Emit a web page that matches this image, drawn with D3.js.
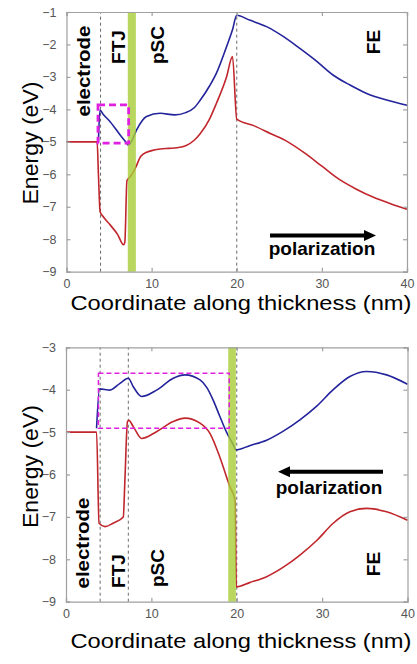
<!DOCTYPE html>
<html>
<head>
<meta charset="utf-8">
<title>Band diagram</title>
<style>
  body { margin: 0; background: #fff; }
  svg { font-family: 'Liberation Sans', Arial, sans-serif; }
  .axis path, .axis line { stroke: #a0a0a0; stroke-width: 1.2; }
  .axis text { fill: #555; font-size: 12.5px; }
  .lbl { font-weight: bold; font-size: 19px; fill: #000; }
</style>
</head>
<body>
<div id="chart"></div>
<script src="https://cdn.jsdelivr.net/npm/d3@7"></script>
<script>
// coordinate in nm, energy in eV
const xTicks = [0, 10, 20, 30, 40];
const topYTicks = [-9, -8, -7, -6, -5, -4, -3, -2, -1];
const botYTicks = [-9, -8, -7, -6, -5, -4, -3];

// top panel (polarization to the right)
const topBlueX = [3.75, 3.93, 4.3, 5.1, 6.28, 7.07, 7.25, 7.6, 8.24, 9.4, 11, 12.7, 14, 15, 15.7, 16.8, 17.6, 18.8, 19.5, 20, 21.5, 23.5, 25.5, 27.4, 29.4, 31.3, 33.3, 35.2, 37.6, 40];
const topBlueE = [-5.0, -4.02, -4.15, -4.37, -4.78, -5.04, -5.1, -5.0, -4.63, -4.22, -4.12, -4.17, -4.1, -3.95, -3.72, -3.28, -2.89, -2.07, -1.55, -1.1, -1.25, -1.45, -1.76, -2.12, -2.52, -2.94, -3.25, -3.5, -3.71, -3.87];
const topRedX = [0, 3.6, 3.75, 3.95, 4.3, 5.1, 6.0, 6.7, 6.85, 7.1, 7.4, 7.8, 8.2, 8.6, 9.0, 10, 11, 12, 13, 14, 15, 15.7, 16.8, 17.6, 18.8, 19.5, 20, 22, 24, 26, 28, 30, 32, 34, 36, 38, 40];
const topRedE = [-5, -5, -6.0, -7.15, -7.3, -7.55, -7.85, -8.17, -8.1, -6.2, -6.1, -5.95, -5.75, -5.5, -5.38, -5.27, -5.22, -5.2, -5.18, -5.12, -4.95, -4.75, -4.3, -3.82, -3.0, -2.37, -4.3, -4.5, -4.75, -5.0, -5.35, -5.75, -6.15, -6.45, -6.7, -6.9, -7.08];

// bottom panel (polarization to the left)
const botBlueX = [3.58, 3.93, 5.15, 6.32, 7.3, 7.88, 8.86, 10.6, 12.56, 13.93, 15.7, 16.5, 17.25, 18, 18.8, 19.6, 19.9, 21.5, 23.5, 25.5, 27.4, 29.4, 31.3, 33.25, 35.2, 37.55, 40];
const botBlueE = [-4.91, -3.98, -4.01, -3.85, -3.73, -3.93, -4.16, -4.01, -3.73, -3.65, -3.77, -3.95, -4.25, -4.62, -5.0, -5.3, -5.42, -5.32, -5.19, -4.97, -4.71, -4.38, -4.0, -3.69, -3.57, -3.65, -3.87];
const botRedX = [0, 3.58, 3.87, 4.57, 5.5, 6.71, 6.9, 7.2, 7.35, 7.88, 8.86, 10.6, 12.56, 13.93, 15.7, 16.86, 18.0, 19.2, 19.8, 19.95, 21.5, 23.5, 25.5, 27.4, 29.4, 31.3, 33.25, 35.2, 37.55, 40];
const botRedE = [-5, -5, -7.15, -7.23, -7.15, -7.0, -6.13, -4.75, -4.72, -4.87, -5.15, -4.99, -4.75, -4.67, -4.79, -5.03, -5.58, -6.29, -6.6, -8.65, -8.55, -8.41, -8.18, -7.9, -7.55, -7.15, -6.88, -6.8, -6.88, -7.08];

const zip = (xs, ys) => xs.map((v, i) => [v, ys[i]]);

const svg = d3.select("#chart").append("svg")
    .attr("width", 417)
    .attr("height", 664);

function drawPanel(p) {
    const x = d3.scaleLinear().domain([0, 40]).range([p.left, p.right]);
    const y = d3.scaleLinear().domain(p.yDomain).range([p.bottom, p.top]);
    const g = svg.append("g");

    // dashed layer boundaries
    p.bounds.forEach(b => {
        g.append("line")
            .attr("x1", x(b)).attr("x2", x(b))
            .attr("y1", y(p.yDomain[0])).attr("y2", y(p.yDomain[1]))
            .attr("stroke", "#444").attr("stroke-width", 0.8)
            .attr("stroke-dasharray", "3,3");
    });

    const line = d3.line()
        .x(d => x(d[0]))
        .y(d => y(d[1]))
        .curve(d3.curveMonotoneX);

    g.append("path").datum(zip(p.redX, p.redE))
        .attr("d", line).attr("fill", "none")
        .attr("stroke", "#c0262c").attr("stroke-width", 1.6);
    g.append("path").datum(zip(p.blueX, p.blueE))
        .attr("d", line).attr("fill", "none")
        .attr("stroke", "#23239b").attr("stroke-width", 1.6);

    // interface layer
    g.append("rect")
        .attr("x", x(p.band[0])).attr("width", x(p.band[1]) - x(p.band[0]))
        .attr("y", y(p.yDomain[1])).attr("height", y(p.yDomain[0]) - y(p.yDomain[1]))
        .attr("fill", "#a8cd37").attr("opacity", 0.8);

    // magenta box
    g.append("rect")
        .attr("x", x(p.box[0])).attr("width", x(p.box[1]) - x(p.box[0]))
        .attr("y", y(p.box[3])).attr("height", y(p.box[2]) - y(p.box[3]))
        .attr("fill", "none").attr("stroke", "#e020e0")
        .attr("stroke-width", p.boxW).attr("stroke-dasharray", p.boxDash);

    // axes (box with inward ticks)
    const fmt = d3.format("d");
    g.append("g").attr("class", "axis")
        .attr("transform", `translate(0,${p.bottom})`)
        .call(d3.axisBottom(x).tickValues(xTicks).tickSize(-4).tickPadding(7).tickFormat(fmt));
    g.append("g").attr("class", "axis")
        .attr("transform", `translate(0,${p.top})`)
        .call(d3.axisTop(x).tickValues(xTicks).tickSize(-4).tickFormat(""));
    g.append("g").attr("class", "axis")
        .attr("transform", `translate(${p.left},0)`)
        .call(d3.axisLeft(y).tickValues(p.yTicks).tickSize(-4).tickPadding(10).tickFormat(fmt));
    g.append("g").attr("class", "axis")
        .attr("transform", `translate(${p.right},0)`)
        .call(d3.axisRight(y).tickValues(p.yTicks).tickSize(-4).tickFormat(""));

    // axis titles
    g.append("text")
        .attr("x", 241).attr("y", p.xLabelY)
        .attr("text-anchor", "middle")
        .attr("font-size", 21)
        .attr("textLength", 341).attr("lengthAdjust", "spacingAndGlyphs")
        .text("Coordinate along thickness (nm)");
    g.append("text")
        .attr("transform", `translate(30,${p.yLabelY}) rotate(-90)`)
        .attr("text-anchor", "middle").attr("dominant-baseline", "central")
        .attr("font-size", 22)
        .attr("textLength", 123).attr("lengthAdjust", "spacingAndGlyphs")
        .text("Energy (eV)");

    // region labels
    p.labels.forEach(l => {
        const t = g.append("text").attr("class", "lbl")
            .attr("transform", `translate(${l.x},${l.y}) rotate(-90)`)
            .attr("text-anchor", "middle").attr("dominant-baseline", "central")
            .text(l.text);
        if (l.len) t.attr("textLength", l.len).attr("lengthAdjust", "spacingAndGlyphs");
    });

    // polarization arrow
    const a = p.arrow;
    const dir = a.to > a.from ? 1 : -1;
    g.append("line")
        .attr("x1", a.from).attr("x2", a.to - dir * 9)
        .attr("y1", a.y).attr("y2", a.y)
        .attr("stroke", "#000").attr("stroke-width", 4);
    g.append("path")
        .attr("d", `M${a.to},${a.y} L${a.to - dir * 12},${a.y - 5.5} L${a.to - dir * 12},${a.y + 5.5} Z`)
        .attr("fill", "#000");
    g.append("text").attr("class", "lbl")
        .attr("x", a.textX).attr("y", a.textY)
        .attr("text-anchor", "middle")
        .attr("font-size", 18)
        .text("polarization");
}

drawPanel({
    left: 66.5, right: 407, top: 12, bottom: 271.7,
    yDomain: [-9, -1], yTicks: topYTicks,
    blueX: topBlueX, blueE: topBlueE, redX: topRedX, redE: topRedE,
    bounds: [4, 20],
    band: [7.2, 8.15],
    box: [3.7, 7.3, -5.04, -3.86], boxW: 2.8, boxDash: "7,4",
    xLabelY: 310, yLabelY: 143,
    labels: [
        { text: "electrode", x: 83, y: 71, len: 91 },
        { text: "FTJ", x: 118, y: 47 },
        { text: "pSC", x: 157, y: 45 },
        { text: "FE", x: 373, y: 42 }
    ],
    arrow: { from: 270, to: 376, y: 235.5, textX: 322, textY: 255 }
});

drawPanel({
    left: 66, right: 407.5, top: 347.3, bottom: 601.7,
    yDomain: [-9, -3], yTicks: botYTicks,
    blueX: botBlueX, blueE: botBlueE, redX: botRedX, redE: botRedE,
    bounds: [4, 7.3, 20],
    band: [19.0, 19.9],
    box: [3.8, 19.12, -4.91, -3.61], boxW: 1.5, boxDash: "5,3",
    xLabelY: 648, yLabelY: 466.5,
    labels: [
        { text: "electrode", x: 82, y: 543, len: 91 },
        { text: "FTJ", x: 118, y: 571 },
        { text: "pSC", x: 157, y: 568 },
        { text: "FE", x: 373, y: 564 }
    ],
    arrow: { from: 383, to: 278, y: 471.7, textX: 329, textY: 494 }
});
</script>
</body>
</html>
